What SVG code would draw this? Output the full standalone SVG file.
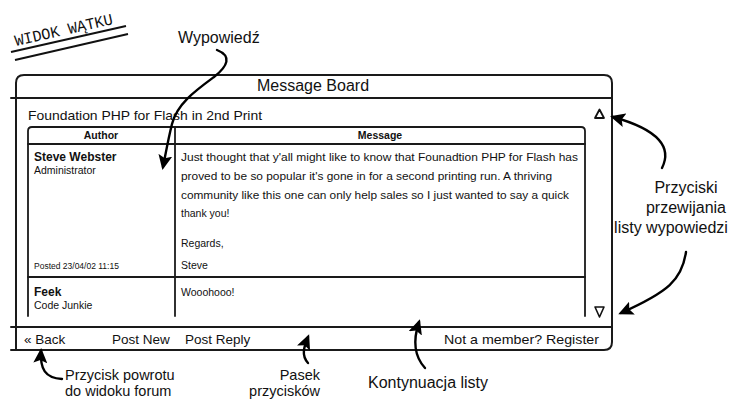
<svg xmlns="http://www.w3.org/2000/svg" width="730" height="399" viewBox="0 0 730 399">
  <style>
    .frame { fill: none; stroke: #1a1a1a; stroke-width: 2; stroke-linecap: round; stroke-linejoin: round; }
    .grid { fill: none; stroke: #1a1a1a; stroke-width: 1.8; stroke-linecap: round; }
    .ui { font-family: "Liberation Sans", "DejaVu Sans", sans-serif; fill: #111; }
    .title { font-size: 16px; }
    .subject { font-size: 13px; }
    .head { font-size: 10.5px; font-weight: bold; }
    .msg { font-size: 10.5px; }
    .small { font-size: 8.5px; }
    .foot { font-size: 13.5px; }
    .note { font-family: "Liberation Sans", Arial, sans-serif; font-size: 16px; fill: #111; }
    .note.low { font-size: 14.5px; }
    .stamp { font-family: "Liberation Mono", "DejaVu Sans Mono", monospace; font-size: 16px; fill: #111; }
    .arrow { fill: none; stroke: #000; stroke-width: 2.4; stroke-linecap: round; marker-end: url(#head); }
  </style>
  <defs>
    <marker id="head" markerUnits="userSpaceOnUse" markerWidth="16" markerHeight="14" refX="12" refY="7" orient="auto">
      <path d="M0,0 L15,7 L0,14 L3,7 z" fill="#000"/>
    </marker>
  </defs>

  <rect width="730" height="399" fill="#ffffff"/>

  <!-- Section stamp -->
  <g id="stamp">
    <text class="stamp" x="0" y="0" textLength="100" lengthAdjust="spacingAndGlyphs" transform="translate(16,46) rotate(-12.7)">WIDOK WĄTKU</text>
    <line x1="11" y1="52" x2="126" y2="26" stroke="#111" stroke-width="2"/>
    <line x1="15" y1="60" x2="128" y2="34" stroke="#111" stroke-width="2"/>
  </g>

  <!-- Message board window -->
  <g id="window">
    <path class="frame" d="M16,350 L16,83 Q16,75 24,75 L604,75 Q612,75 612,83 L612,342 Q612,350 604,350 L11,350"/>
    <line class="frame" x1="11" y1="98" x2="612" y2="98"/>
    <line class="frame" x1="11" y1="327" x2="612" y2="327"/>
    <text class="ui title" x="313" y="91" text-anchor="middle">Message Board</text>
    <text class="ui subject" x="28" y="120" textLength="234" lengthAdjust="spacingAndGlyphs">Foundation PHP for Flash in 2nd Print</text>
  </g>

  <!-- Scroll buttons -->
  <g id="scroll-up">
    <path d="M595,118 L599.5,109.5 L604,118 Z" fill="none" stroke="#111" stroke-width="1.8" stroke-linejoin="round"/>
  </g>
  <g id="scroll-down">
    <path d="M595,307 L604,307 L599.5,317 Z" fill="none" stroke="#111" stroke-width="1.6" stroke-linejoin="round"/>
  </g>

  <!-- Post table -->
  <g id="post-table">
    <path class="grid" d="M28,316 L28,131 Q28,127 32,127 L581,127 Q585,127 585,131 L585,316"/>
    <line class="grid" x1="28" y1="144" x2="585" y2="144"/>
    <line class="grid" x1="175" y1="127" x2="175" y2="316"/>
    <line class="grid" x1="28" y1="277" x2="585" y2="277"/>
    <text class="ui head" x="101" y="139" text-anchor="middle">Author</text>
    <text class="ui head" x="380" y="139" text-anchor="middle">Message</text>
  </g>

  <g id="post-1">
    <text class="ui head" x="34" y="161" style="font-size:12px">Steve Webster</text>
    <text class="ui msg" x="34" y="174">Administrator</text>
    <text class="ui small" x="34" y="269">Posted  23/04/02 11:15</text>
    <text class="ui msg" x="181" y="161" textLength="397" lengthAdjust="spacingAndGlyphs">Just thought that y'all might like to know that Founadtion PHP for Flash has</text>
    <text class="ui msg" x="181" y="180" textLength="371" lengthAdjust="spacingAndGlyphs">proved to be so popular it's gone in for a second printing run. A thriving</text>
    <text class="ui msg" x="181" y="199" textLength="388" lengthAdjust="spacingAndGlyphs">community like this one can only help sales so I just wanted to say a quick</text>
    <text class="ui msg" x="181" y="217">thank you!</text>
    <text class="ui msg" x="181" y="247">Regards,</text>
    <text class="ui msg" x="181" y="269">Steve</text>
  </g>

  <g id="post-2">
    <text class="ui head" x="34" y="296" style="font-size:12px">Feek</text>
    <text class="ui msg" x="34" y="309">Code Junkie</text>
    <text class="ui msg" x="181" y="296">Wooohooo!</text>
  </g>

  <!-- Button bar -->
  <g id="button-bar">
    <text class="ui foot" x="24" y="344">« Back</text>
    <text class="ui foot" x="112" y="344">Post New</text>
    <text class="ui foot" x="185" y="344">Post Reply</text>
    <text class="ui foot" x="599" y="344" text-anchor="end" textLength="155" lengthAdjust="spacingAndGlyphs">Not a member? Register</text>
  </g>

  <!-- Callout labels -->
  <g id="label-post">
    <text class="note" x="178" y="43">Wypowiedź</text>
  </g>
  <g id="label-scroll">
    <text class="note" x="686" y="193" text-anchor="middle">Przyciski</text>
    <text class="note" x="686" y="213" text-anchor="middle">przewijania</text>
    <text class="note" x="671" y="233" text-anchor="middle">listy wypowiedzi</text>
  </g>
  <g id="label-back">
    <text class="note low" x="65" y="379.5">Przycisk powrotu</text>
    <text class="note low" x="65" y="396">do widoku forum</text>
  </g>
  <g id="label-bar">
    <text class="note low" x="320" y="379.5" text-anchor="end">Pasek</text>
    <text class="note low" x="320" y="396" text-anchor="end">przycisków</text>
  </g>
  <g id="label-continue">
    <text class="note" x="368" y="388">Kontynuacja listy</text>
  </g>

  <!-- Callout arrows -->
  <g id="connectors">
    <path class="arrow" d="M217,50 C232,56 228,66 214,77 C195,91 177,104 172,124 C168,140 166,152 163,167"/>
    <path class="arrow" d="M662,168 C672,148 660,130 613,117"/>
    <path class="arrow" d="M686,252 C682,280 668,292 621,313"/>
    <path class="arrow" d="M62,379 C45,378 40,369 41,351"/>
    <path class="arrow" d="M308,363 C301,355 304,347 308,337"/>
    <path class="arrow" d="M425,368 C414,356 413,340 419,322"/>
  </g>
</svg>
